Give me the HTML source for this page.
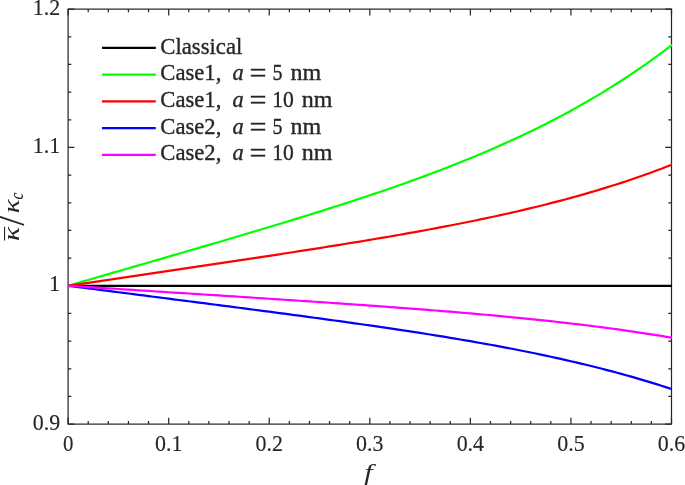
<!DOCTYPE html>
<html lang="en"><head><meta charset="utf-8"><title>Effective conductivity ratio versus volume fraction</title>
<style>html,body{margin:0;padding:0;background:#fff;}body{width:685px;height:485px;overflow:hidden;}svg{display:block;}</style>
</head><body>
<svg width="685" height="485" viewBox="0 0 685 485">
<rect x="0" y="0" width="685" height="485" fill="#ffffff"/>
<g stroke="#262626" stroke-width="1.22" fill="none" stroke-linecap="butt">
<rect x="68.1" y="9.12" width="603.4" height="415.0"/>
<path d="M68.10 424.12 v-6.3 M68.10 9.12 v6.3 M88.21 424.12 v-3.2 M88.21 9.12 v3.2 M108.33 424.12 v-3.2 M108.33 9.12 v3.2 M128.44 424.12 v-3.2 M128.44 9.12 v3.2 M148.55 424.12 v-3.2 M148.55 9.12 v3.2 M168.67 424.12 v-6.3 M168.67 9.12 v6.3 M188.78 424.12 v-3.2 M188.78 9.12 v3.2 M208.89 424.12 v-3.2 M208.89 9.12 v3.2 M229.01 424.12 v-3.2 M229.01 9.12 v3.2 M249.12 424.12 v-3.2 M249.12 9.12 v3.2 M269.23 424.12 v-6.3 M269.23 9.12 v6.3 M289.35 424.12 v-3.2 M289.35 9.12 v3.2 M309.46 424.12 v-3.2 M309.46 9.12 v3.2 M329.57 424.12 v-3.2 M329.57 9.12 v3.2 M349.69 424.12 v-3.2 M349.69 9.12 v3.2 M369.80 424.12 v-6.3 M369.80 9.12 v6.3 M389.91 424.12 v-3.2 M389.91 9.12 v3.2 M410.03 424.12 v-3.2 M410.03 9.12 v3.2 M430.14 424.12 v-3.2 M430.14 9.12 v3.2 M450.25 424.12 v-3.2 M450.25 9.12 v3.2 M470.37 424.12 v-6.3 M470.37 9.12 v6.3 M490.48 424.12 v-3.2 M490.48 9.12 v3.2 M510.59 424.12 v-3.2 M510.59 9.12 v3.2 M530.71 424.12 v-3.2 M530.71 9.12 v3.2 M550.82 424.12 v-3.2 M550.82 9.12 v3.2 M570.93 424.12 v-6.3 M570.93 9.12 v6.3 M591.05 424.12 v-3.2 M591.05 9.12 v3.2 M611.16 424.12 v-3.2 M611.16 9.12 v3.2 M631.27 424.12 v-3.2 M631.27 9.12 v3.2 M651.39 424.12 v-3.2 M651.39 9.12 v3.2 M671.50 424.12 v-6.3 M671.50 9.12 v6.3 M68.1 424.12 h6.3 M671.5 424.12 h-6.3 M68.1 396.45 h3.2 M671.5 396.45 h-3.2 M68.1 368.79 h3.2 M671.5 368.79 h-3.2 M68.1 341.12 h3.2 M671.5 341.12 h-3.2 M68.1 313.45 h3.2 M671.5 313.45 h-3.2 M68.1 285.79 h6.3 M671.5 285.79 h-6.3 M68.1 258.12 h3.2 M671.5 258.12 h-3.2 M68.1 230.45 h3.2 M671.5 230.45 h-3.2 M68.1 202.79 h3.2 M671.5 202.79 h-3.2 M68.1 175.12 h3.2 M671.5 175.12 h-3.2 M68.1 147.45 h6.3 M671.5 147.45 h-6.3 M68.1 119.79 h3.2 M671.5 119.79 h-3.2 M68.1 92.12 h3.2 M671.5 92.12 h-3.2 M68.1 64.45 h3.2 M671.5 64.45 h-3.2 M68.1 36.79 h3.2 M671.5 36.79 h-3.2 M68.1 9.12 h6.3 M671.5 9.12 h-6.3"/>
</g>
<clipPath id="cp"><rect x="68.1" y="9.12" width="604.1" height="415.0"/></clipPath>
<g clip-path="url(#cp)" fill="none" stroke-linecap="butt" stroke-linejoin="round">
<path d="M68.10 285.79 L73.13 285.79 L78.16 285.79 L83.19 285.79 L88.21 285.79 L93.24 285.79 L98.27 285.79 L103.30 285.79 L108.33 285.79 L113.35 285.79 L118.38 285.79 L123.41 285.79 L128.44 285.79 L133.47 285.79 L138.50 285.79 L143.52 285.79 L148.55 285.79 L153.58 285.79 L158.61 285.79 L163.64 285.79 L168.67 285.79 L173.69 285.79 L178.72 285.79 L183.75 285.79 L188.78 285.79 L193.81 285.79 L198.84 285.79 L203.87 285.79 L208.89 285.79 L213.92 285.79 L218.95 285.79 L223.98 285.79 L229.01 285.79 L234.04 285.79 L239.06 285.79 L244.09 285.79 L249.12 285.79 L254.15 285.79 L259.18 285.79 L264.20 285.79 L269.23 285.79 L274.26 285.79 L279.29 285.79 L284.32 285.79 L289.35 285.79 L294.38 285.79 L299.40 285.79 L304.43 285.79 L309.46 285.79 L314.49 285.79 L319.52 285.79 L324.54 285.79 L329.57 285.79 L334.60 285.79 L339.63 285.79 L344.66 285.79 L349.69 285.79 L354.72 285.79 L359.74 285.79 L364.77 285.79 L369.80 285.79 L374.83 285.79 L379.86 285.79 L384.88 285.79 L389.91 285.79 L394.94 285.79 L399.97 285.79 L405.00 285.79 L410.03 285.79 L415.06 285.79 L420.08 285.79 L425.11 285.79 L430.14 285.79 L435.17 285.79 L440.20 285.79 L445.23 285.79 L450.25 285.79 L455.28 285.79 L460.31 285.79 L465.34 285.79 L470.37 285.79 L475.39 285.79 L480.42 285.79 L485.45 285.79 L490.48 285.79 L495.51 285.79 L500.54 285.79 L505.56 285.79 L510.59 285.79 L515.62 285.79 L520.65 285.79 L525.68 285.79 L530.71 285.79 L535.74 285.79 L540.76 285.79 L545.79 285.79 L550.82 285.79 L555.85 285.79 L560.88 285.79 L565.90 285.79 L570.93 285.79 L575.96 285.79 L580.99 285.79 L586.02 285.79 L591.05 285.79 L596.08 285.79 L601.10 285.79 L606.13 285.79 L611.16 285.79 L616.19 285.79 L621.22 285.79 L626.25 285.79 L631.27 285.79 L636.30 285.79 L641.33 285.79 L646.36 285.79 L651.39 285.79 L656.41 285.79 L661.44 285.79 L666.47 285.79 L671.50 285.79 L672.20 285.79" stroke="#000000" stroke-width="2.2"/>
<path d="M68.10 285.79 L73.13 284.33 L78.16 282.88 L83.19 281.42 L88.21 279.96 L93.24 278.51 L98.27 277.05 L103.30 275.60 L108.33 274.14 L113.35 272.68 L118.38 271.23 L123.41 269.77 L128.44 268.31 L133.47 266.86 L138.50 265.40 L143.52 263.94 L148.55 262.48 L153.58 261.03 L158.61 259.57 L163.64 258.11 L168.67 256.65 L173.69 255.18 L178.72 253.72 L183.75 252.26 L188.78 250.79 L193.81 249.32 L198.84 247.86 L203.87 246.39 L208.89 244.91 L213.92 243.44 L218.95 241.96 L223.98 240.48 L229.01 239.00 L234.04 237.52 L239.06 236.03 L244.09 234.54 L249.12 233.05 L254.15 231.55 L259.18 230.05 L264.20 228.54 L269.23 227.03 L274.26 225.51 L279.29 223.99 L284.32 222.46 L289.35 220.93 L294.38 219.39 L299.40 217.85 L304.43 216.29 L309.46 214.74 L314.49 213.17 L319.52 211.59 L324.54 210.01 L329.57 208.42 L334.60 206.82 L339.63 205.21 L344.66 203.58 L349.69 201.95 L354.72 200.31 L359.74 198.66 L364.77 196.99 L369.80 195.31 L374.83 193.62 L379.86 191.92 L384.88 190.20 L389.91 188.46 L394.94 186.71 L399.97 184.95 L405.00 183.17 L410.03 181.37 L415.06 179.56 L420.08 177.72 L425.11 175.87 L430.14 174.00 L435.17 172.11 L440.20 170.20 L445.23 168.26 L450.25 166.31 L455.28 164.33 L460.31 162.33 L465.34 160.30 L470.37 158.25 L475.39 156.17 L480.42 154.07 L485.45 151.94 L490.48 149.78 L495.51 147.59 L500.54 145.37 L505.56 143.12 L510.59 140.84 L515.62 138.53 L520.65 136.18 L525.68 133.80 L530.71 131.39 L535.74 128.94 L540.76 126.45 L545.79 123.92 L550.82 121.35 L555.85 118.75 L560.88 116.10 L565.90 113.41 L570.93 110.68 L575.96 107.90 L580.99 105.08 L586.02 102.22 L591.05 99.30 L596.08 96.34 L601.10 93.33 L606.13 90.26 L611.16 87.15 L616.19 83.98 L621.22 80.76 L626.25 77.48 L631.27 74.14 L636.30 70.75 L641.33 67.30 L646.36 63.79 L651.39 60.22 L656.41 56.58 L661.44 52.88 L666.47 49.12 L671.50 45.28 L672.20 44.74" stroke="#00ff00" stroke-width="2.2"/>
<path d="M68.10 285.79 L73.13 285.04 L78.16 284.30 L83.19 283.55 L88.21 282.81 L93.24 282.06 L98.27 281.32 L103.30 280.58 L108.33 279.83 L113.35 279.09 L118.38 278.34 L123.41 277.60 L128.44 276.85 L133.47 276.11 L138.50 275.36 L143.52 274.62 L148.55 273.87 L153.58 273.13 L158.61 272.38 L163.64 271.64 L168.67 270.89 L173.69 270.14 L178.72 269.40 L183.75 268.65 L188.78 267.90 L193.81 267.16 L198.84 266.41 L203.87 265.66 L208.89 264.91 L213.92 264.16 L218.95 263.41 L223.98 262.65 L229.01 261.90 L234.04 261.14 L239.06 260.39 L244.09 259.63 L249.12 258.87 L254.15 258.11 L259.18 257.35 L264.20 256.59 L269.23 255.82 L274.26 255.06 L279.29 254.29 L284.32 253.52 L289.35 252.74 L294.38 251.97 L299.40 251.19 L304.43 250.40 L309.46 249.62 L314.49 248.83 L319.52 248.04 L324.54 247.24 L329.57 246.44 L334.60 245.64 L339.63 244.83 L344.66 244.02 L349.69 243.20 L354.72 242.38 L359.74 241.56 L364.77 240.72 L369.80 239.89 L374.83 239.04 L379.86 238.19 L384.88 237.34 L389.91 236.47 L394.94 235.60 L399.97 234.73 L405.00 233.84 L410.03 232.95 L415.06 232.05 L420.08 231.14 L425.11 230.22 L430.14 229.29 L435.17 228.35 L440.20 227.41 L445.23 226.45 L450.25 225.48 L455.28 224.50 L460.31 223.51 L465.34 222.50 L470.37 221.49 L475.39 220.46 L480.42 219.42 L485.45 218.36 L490.48 217.29 L495.51 216.21 L500.54 215.11 L505.56 214.00 L510.59 212.87 L515.62 211.72 L520.65 210.56 L525.68 209.38 L530.71 208.18 L535.74 206.96 L540.76 205.72 L545.79 204.46 L550.82 203.19 L555.85 201.89 L560.88 200.57 L565.90 199.23 L570.93 197.87 L575.96 196.48 L580.99 195.07 L586.02 193.63 L591.05 192.17 L596.08 190.69 L601.10 189.17 L606.13 187.63 L611.16 186.06 L616.19 184.47 L621.22 182.84 L626.25 181.19 L631.27 179.50 L636.30 177.78 L641.33 176.03 L646.36 174.25 L651.39 172.43 L656.41 170.58 L661.44 168.70 L666.47 166.77 L671.50 164.81 L672.20 164.54" stroke="#ff0000" stroke-width="2.2"/>
<path d="M68.10 285.79 L73.13 286.43 L78.16 287.08 L83.19 287.72 L88.21 288.36 L93.24 289.01 L98.27 289.65 L103.30 290.30 L108.33 290.94 L113.35 291.59 L118.38 292.23 L123.41 292.87 L128.44 293.52 L133.47 294.16 L138.50 294.81 L143.52 295.45 L148.55 296.10 L153.58 296.74 L158.61 297.39 L163.64 298.03 L168.67 298.68 L173.69 299.33 L178.72 299.97 L183.75 300.62 L188.78 301.26 L193.81 301.91 L198.84 302.56 L203.87 303.21 L208.89 303.86 L213.92 304.51 L218.95 305.16 L223.98 305.81 L229.01 306.46 L234.04 307.11 L239.06 307.76 L244.09 308.42 L249.12 309.07 L254.15 309.73 L259.18 310.39 L264.20 311.05 L269.23 311.71 L274.26 312.37 L279.29 313.04 L284.32 313.70 L289.35 314.37 L294.38 315.04 L299.40 315.71 L304.43 316.39 L309.46 317.07 L314.49 317.75 L319.52 318.43 L324.54 319.12 L329.57 319.80 L334.60 320.50 L339.63 321.19 L344.66 321.89 L349.69 322.59 L354.72 323.30 L359.74 324.01 L364.77 324.73 L369.80 325.45 L374.83 326.17 L379.86 326.90 L384.88 327.64 L389.91 328.38 L394.94 329.13 L399.97 329.88 L405.00 330.64 L410.03 331.40 L415.06 332.17 L420.08 332.95 L425.11 333.74 L430.14 334.53 L435.17 335.34 L440.20 336.15 L445.23 336.96 L450.25 337.79 L455.28 338.63 L460.31 339.47 L465.34 340.33 L470.37 341.19 L475.39 342.07 L480.42 342.96 L485.45 343.86 L490.48 344.77 L495.51 345.69 L500.54 346.62 L505.56 347.57 L510.59 348.53 L515.62 349.50 L520.65 350.49 L525.68 351.49 L530.71 352.50 L535.74 353.54 L540.76 354.58 L545.79 355.65 L550.82 356.73 L555.85 357.82 L560.88 358.94 L565.90 360.07 L570.93 361.22 L575.96 362.39 L580.99 363.58 L586.02 364.79 L591.05 366.02 L596.08 367.27 L601.10 368.55 L606.13 369.84 L611.16 371.16 L616.19 372.50 L621.22 373.87 L626.25 375.26 L631.27 376.67 L636.30 378.12 L641.33 379.58 L646.36 381.08 L651.39 382.60 L656.41 384.15 L661.44 385.74 L666.47 387.35 L671.50 388.99 L672.20 389.22" stroke="#0000ff" stroke-width="2.2"/>
<path d="M68.10 285.79 L73.13 286.11 L78.16 286.43 L83.19 286.75 L88.21 287.08 L93.24 287.40 L98.27 287.72 L103.30 288.04 L108.33 288.36 L113.35 288.69 L118.38 289.01 L123.41 289.33 L128.44 289.65 L133.47 289.97 L138.50 290.30 L143.52 290.62 L148.55 290.94 L153.58 291.26 L158.61 291.59 L163.64 291.91 L168.67 292.23 L173.69 292.55 L178.72 292.88 L183.75 293.20 L188.78 293.52 L193.81 293.85 L198.84 294.17 L203.87 294.49 L208.89 294.82 L213.92 295.14 L218.95 295.47 L223.98 295.79 L229.01 296.12 L234.04 296.44 L239.06 296.77 L244.09 297.10 L249.12 297.42 L254.15 297.75 L259.18 298.08 L264.20 298.41 L269.23 298.74 L274.26 299.07 L279.29 299.40 L284.32 299.73 L289.35 300.06 L294.38 300.40 L299.40 300.73 L304.43 301.07 L309.46 301.41 L314.49 301.75 L319.52 302.09 L324.54 302.43 L329.57 302.77 L334.60 303.11 L339.63 303.46 L344.66 303.81 L349.69 304.16 L354.72 304.51 L359.74 304.86 L364.77 305.22 L369.80 305.58 L374.83 305.94 L379.86 306.30 L384.88 306.67 L389.91 307.04 L394.94 307.41 L399.97 307.78 L405.00 308.16 L410.03 308.54 L415.06 308.93 L420.08 309.31 L425.11 309.70 L430.14 310.10 L435.17 310.50 L440.20 310.90 L445.23 311.31 L450.25 311.72 L455.28 312.14 L460.31 312.56 L465.34 312.99 L470.37 313.42 L475.39 313.86 L480.42 314.30 L485.45 314.75 L490.48 315.20 L495.51 315.66 L500.54 316.13 L505.56 316.61 L510.59 317.09 L515.62 317.57 L520.65 318.07 L525.68 318.57 L530.71 319.08 L535.74 319.60 L540.76 320.13 L545.79 320.66 L550.82 321.20 L555.85 321.76 L560.88 322.32 L565.90 322.89 L570.93 323.47 L575.96 324.06 L580.99 324.66 L586.02 325.28 L591.05 325.90 L596.08 326.53 L601.10 327.18 L606.13 327.84 L611.16 328.51 L616.19 329.19 L621.22 329.89 L626.25 330.60 L631.27 331.32 L636.30 332.06 L641.33 332.81 L646.36 333.57 L651.39 334.35 L656.41 335.15 L661.44 335.96 L666.47 336.79 L671.50 337.63 L672.20 337.75" stroke="#ff00ff" stroke-width="2.2"/>
</g>
<g font-family="'Liberation Serif', serif" font-size="23.5" fill="#262626" stroke="#262626" stroke-width="0.15">
<text x="68.10" y="450.9" text-anchor="middle" textLength="10.4" lengthAdjust="spacingAndGlyphs">0</text>
<text x="168.67" y="450.9" text-anchor="middle" textLength="27.4" lengthAdjust="spacingAndGlyphs">0.1</text>
<text x="269.23" y="450.9" text-anchor="middle" textLength="27.4" lengthAdjust="spacingAndGlyphs">0.2</text>
<text x="369.80" y="450.9" text-anchor="middle" textLength="27.4" lengthAdjust="spacingAndGlyphs">0.3</text>
<text x="470.37" y="450.9" text-anchor="middle" textLength="27.4" lengthAdjust="spacingAndGlyphs">0.4</text>
<text x="570.93" y="450.9" text-anchor="middle" textLength="27.4" lengthAdjust="spacingAndGlyphs">0.5</text>
<text x="671.50" y="450.9" text-anchor="middle" textLength="27.4" lengthAdjust="spacingAndGlyphs">0.6</text>
<text x="60.2" y="429.72" text-anchor="end" textLength="27.4" lengthAdjust="spacingAndGlyphs">0.9</text>
<text x="60.2" y="291.39" text-anchor="end" textLength="11.2" lengthAdjust="spacingAndGlyphs">1</text>
<text x="60.2" y="153.05" text-anchor="end" textLength="27.4" lengthAdjust="spacingAndGlyphs">1.1</text>
<text x="60.2" y="14.72" text-anchor="end" textLength="27.4" lengthAdjust="spacingAndGlyphs">1.2</text>
</g>
<text x="364.3" y="479.7" font-family="'Liberation Serif', serif" font-style="italic" font-size="23.8" fill="#262626" textLength="8.3" lengthAdjust="spacingAndGlyphs">f</text>
<g transform="translate(18.5,240.9) rotate(-90)" font-family="'Liberation Serif', serif" fill="#262626" stroke="#262626" stroke-width="0.15"><text x="0" y="0" font-size="23.8" font-style="italic" stroke="none" textLength="14.2" lengthAdjust="spacingAndGlyphs">κ</text><rect x="0.4" y="-14.5" width="13.8" height="1.1" stroke="none"/><text x="15.2" y="5.6" font-size="35" textLength="9.8" lengthAdjust="spacingAndGlyphs">/</text><text x="27.6" y="0" font-size="23.8" font-style="italic" stroke="none" textLength="14" lengthAdjust="spacingAndGlyphs">κ</text><text x="41.5" y="4.7" font-size="18.5" font-style="italic" textLength="6.8" lengthAdjust="spacingAndGlyphs">c</text></g>
<g font-family="'Liberation Serif', serif" font-size="23.5" fill="#262626" stroke="#262626" stroke-width="0.35">
<line x1="102" x2="155.8" y1="47.90" y2="47.90" stroke="#000000" stroke-width="2.2"/>
<text x="160.3" y="53.50" textLength="82" lengthAdjust="spacingAndGlyphs">Classical</text>
<line x1="102" x2="155.8" y1="74.62" y2="74.62" stroke="#00ff00" stroke-width="2.2"/>
<text x="160.3" y="80.22" textLength="61" lengthAdjust="spacingAndGlyphs">Case1,</text>
<text x="232.4" y="80.22" font-style="italic" textLength="11.2" lengthAdjust="spacingAndGlyphs">a</text>
<text x="249.5" y="82.12" font-size="27" textLength="17" lengthAdjust="spacingAndGlyphs">=</text>
<text x="272.5" y="80.22" textLength="10" lengthAdjust="spacingAndGlyphs">5</text>
<text x="290.6" y="80.22" textLength="30.7" lengthAdjust="spacingAndGlyphs">nm</text>
<line x1="102" x2="155.8" y1="101.34" y2="101.34" stroke="#ff0000" stroke-width="2.2"/>
<text x="160.3" y="106.94" textLength="61" lengthAdjust="spacingAndGlyphs">Case1,</text>
<text x="232.4" y="106.94" font-style="italic" textLength="11.2" lengthAdjust="spacingAndGlyphs">a</text>
<text x="249.5" y="108.84" font-size="27" textLength="17" lengthAdjust="spacingAndGlyphs">=</text>
<text x="272.2" y="106.94" textLength="21.6" lengthAdjust="spacingAndGlyphs">10</text>
<text x="301.8" y="106.94" textLength="30.7" lengthAdjust="spacingAndGlyphs">nm</text>
<line x1="102" x2="155.8" y1="128.06" y2="128.06" stroke="#0000ff" stroke-width="2.2"/>
<text x="160.3" y="133.66" textLength="61" lengthAdjust="spacingAndGlyphs">Case2,</text>
<text x="232.4" y="133.66" font-style="italic" textLength="11.2" lengthAdjust="spacingAndGlyphs">a</text>
<text x="249.5" y="135.56" font-size="27" textLength="17" lengthAdjust="spacingAndGlyphs">=</text>
<text x="272.5" y="133.66" textLength="10" lengthAdjust="spacingAndGlyphs">5</text>
<text x="290.6" y="133.66" textLength="30.7" lengthAdjust="spacingAndGlyphs">nm</text>
<line x1="102" x2="155.8" y1="154.78" y2="154.78" stroke="#ff00ff" stroke-width="2.2"/>
<text x="160.3" y="160.38" textLength="61" lengthAdjust="spacingAndGlyphs">Case2,</text>
<text x="232.4" y="160.38" font-style="italic" textLength="11.2" lengthAdjust="spacingAndGlyphs">a</text>
<text x="249.5" y="162.28" font-size="27" textLength="17" lengthAdjust="spacingAndGlyphs">=</text>
<text x="272.2" y="160.38" textLength="21.6" lengthAdjust="spacingAndGlyphs">10</text>
<text x="301.8" y="160.38" textLength="30.7" lengthAdjust="spacingAndGlyphs">nm</text>
</g>
</svg>
</body></html>
